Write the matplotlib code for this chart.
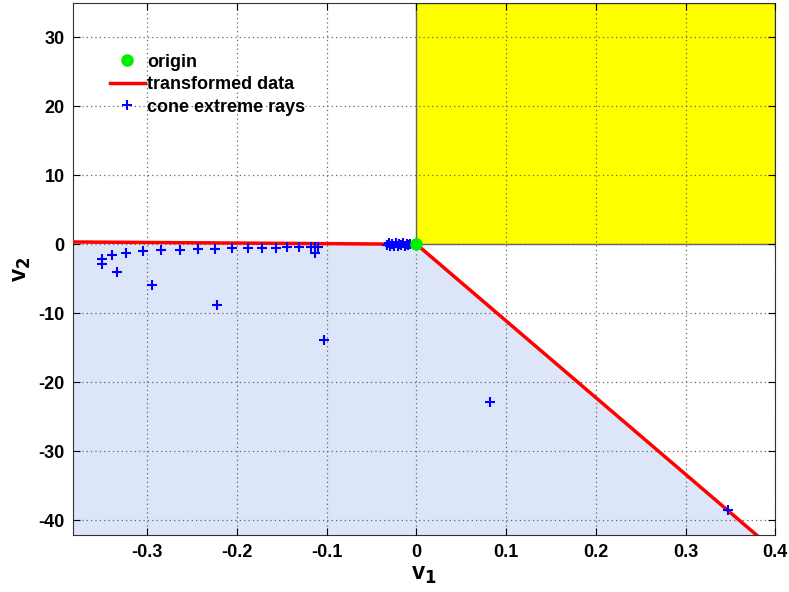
import matplotlib.pyplot as plt
import numpy as np

plt.rcParams['font.family'] = ['Liberation Sans', 'DejaVu Sans']
plt.rcParams['font.weight'] = 'bold'
plt.rcParams['axes.unicode_minus'] = False

# transformed data (cone boundary)
red_x = [-0.383, 0.0, 0.383]
red_y = [0.33, 0.0, -42.6]

# cone extreme rays
ray_x = [-0.3505, -0.3505, -0.340, -0.334, -0.324, -0.305, -0.295, -0.285, -0.264,
         -0.2436, -0.2246, -0.222, -0.2056, -0.1877, -0.172, -0.157, -0.144, -0.131,
         -0.118, -0.113, -0.110, -0.113, -0.103, 0.0816, 0.347,
         -0.033, -0.031, -0.029, -0.027, -0.025, -0.023, -0.021, -0.019, -0.017,
         -0.015, -0.013, -0.011, -0.009, -0.007]
ray_y = [-2.08, -2.8, -1.6, -4.0, -1.26, -1.0, -5.95, -0.87, -0.77,
         -0.72, -0.63, -8.8, -0.58, -0.53, -0.53, -0.48, -0.44, -0.44,
         -0.44, -0.44, -0.44, -1.2, -13.9, -22.9, -38.6,
         -0.1, 0.2, -0.3, 0.1, -0.2, 0.2, -0.25, 0.0, -0.1, 0.15,
         -0.3, 0.1, -0.1, 0.05]

xlim = (-0.383, 0.4)
ylim = (-42.2, 35)

fig = plt.figure(figsize=(7.89, 5.92), dpi=100)
ax = fig.add_axes([0.0925, 0.096, 0.890, 0.899])

# positive orthant
ax.fill([0, xlim[1], xlim[1], 0], [0, 0, ylim[1], ylim[1]],
        facecolor='#ffff00', edgecolor='#666666', lw=1, zorder=1)
# cone region: extend the lower ray well past the axes
k = 2.0
ax.fill([red_x[1], red_x[0], red_x[0], red_x[2] * k],
        [red_y[1], red_y[0], red_y[2] * k, red_y[2] * k],
        facecolor='#dde6f8', edgecolor='none', zorder=1)

ax.plot(red_x, red_y, '-', color='#ff0000', lw=2.5, label='transformed data', zorder=3)
ax.plot(ray_x, ray_y, '+', color='#0000ff', ms=7, mew=1.5, ls='none',
        label='cone extreme rays', zorder=4)
ax.plot([0], [0], 'o', color='#00ee00', ms=8, ls='none', label='origin', zorder=5)

ax.set_xlim(xlim)
ax.set_ylim(ylim)
ax.set_xticks([-0.3, -0.2, -0.1, 0, 0.1, 0.2, 0.3, 0.4])
ax.set_xticklabels(['-0.3', '-0.2', '-0.1', '0', '0.1', '0.2', '0.3', '0.4'])
ax.set_yticks([-40, -30, -20, -10, 0, 10, 20, 30])
ax.grid(True, linestyle=(0, (1, 2.5)), color='#666666', lw=0.9, zorder=2)
ax.set_axisbelow(False)
ax.tick_params(direction='in', top=True, right=True, labelsize=13, length=5, pad=6)
for lbl in ax.get_xticklabels() + ax.get_yticklabels():
    lbl.set_fontweight('bold')
for s in ax.spines.values():
    s.set_color('#333333')

ax.set_xlabel('v$_\\mathbf{1}$', fontsize=17, fontweight='bold', labelpad=2)
ax.set_ylabel('v$_\\mathbf{2}$', fontsize=17, fontweight='bold', labelpad=4)

h, l = ax.get_legend_handles_labels()
order = [2, 0, 1]
ax.legend([h[i] for i in order], [l[i] for i in order], loc='upper left',
          bbox_to_anchor=(0.03, 0.935), frameon=False,
          handlelength=1.9, handletextpad=0.15, labelspacing=0.3,
          prop={'weight': 'bold', 'size': 13})

fig.savefig('out.png', dpi=100)
